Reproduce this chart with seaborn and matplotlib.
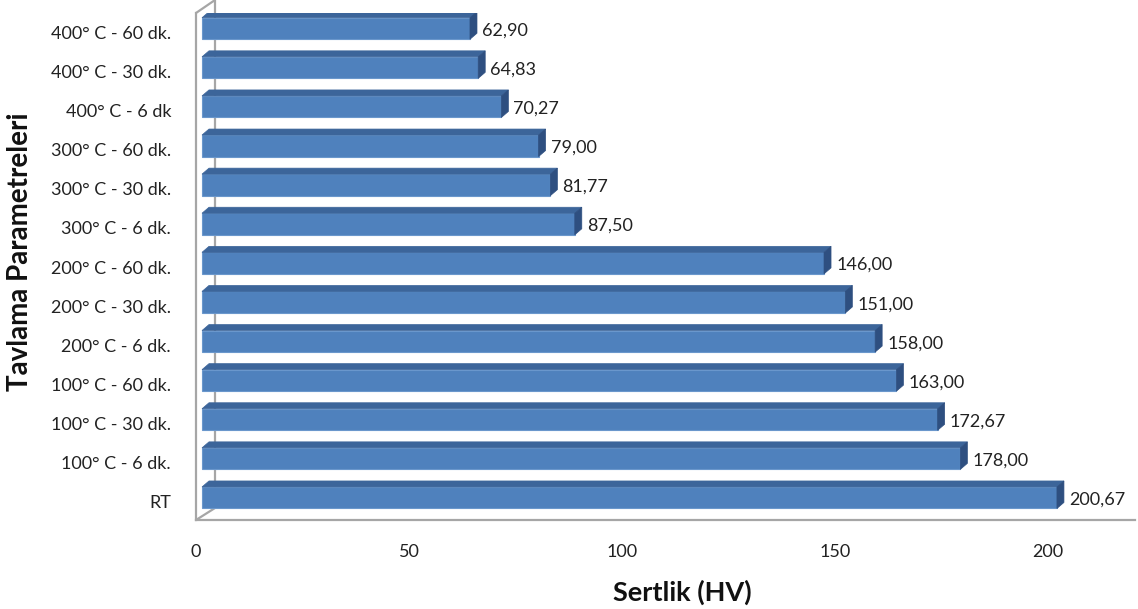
import matplotlib
matplotlib.use("Agg")
import matplotlib.pyplot as plt
import matplotlib.transforms as mtrans
from matplotlib.patches import Polygon
from matplotlib.lines import Line2D
import seaborn as sns
import pandas as pd

categories = ["400° C - 60 dk.", "400° C - 30 dk.", "400° C - 6 dk",
              "300° C - 60 dk.", "300° C - 30 dk.", "300° C - 6 dk.",
              "200° C - 60 dk.", "200° C - 30 dk.", "200° C - 6 dk.",
              "100° C - 60 dk.", "100° C - 30 dk.", "100° C - 6 dk.", "RT"]
values = [62.90, 64.83, 70.27, 79.00, 81.77, 87.50, 146.00, 151.00,
          158.00, 163.00, 172.67, 178.00, 200.67]
x_ticks = [0, 50, 100, 150, 200]
x_label = "Sertlik (HV)"
y_label = "Tavlama Parametreleri"

sns.set_theme(style="white")
plt.rcParams["font.family"] = ["Lato", "DejaVu Sans"]

W, H = 1138, 609
fig = plt.figure(figsize=(W / 100, H / 100), dpi=100)
ax = fig.add_axes([196 / W, 1 - 520 / H, (1135 - 196) / W, (520 - 13) / H])

df = pd.DataFrame({"cat": categories, "val": values})
sns.barplot(data=df, y="cat", x="val", orient="h", ax=ax, color="#4F81BD",
            saturation=1, width=0.55, zorder=3)

ax.set_xlim(0, 220.4)
ax.set_ylim(12.57, -0.396)
ax.set_xticks(x_ticks)
ax.set_xticklabels([str(t) for t in x_ticks])
ax.set_xlabel("")
ax.set_ylabel("")
ax.tick_params(axis="x", length=0, pad=17, labelsize=13, colors="#222222")
ax.tick_params(axis="y", length=0, pad=18, labelsize=13, colors="#222222")
for s in ["top", "right"]:
    ax.spines[s].set_visible(False)
for s in ["left", "bottom"]:
    ax.spines[s].set_color("#A6A6A6")
    ax.spines[s].set_linewidth(1.6)
ax.grid(False)
ax.patch.set_alpha(0)

px = lambda x, y: mtrans.ScaledTranslation(x / 100, y / 100, fig.dpi_scale_trans)
ident = mtrans.IdentityTransform()
wall = dict(color="#A6A6A6", lw=1.6, zorder=-1, clip_on=False)

for lab in ax.get_yticklabels():
    lab.set_transform(lab.get_transform() + px(0, -4))

# back wall: diagonals from front corners to back corners, plus back vertical edge
back_dx, top_dy, bot_dy = 19, 13, 12
(fx, fy_top) = ax.transAxes.transform((0, 1))
(_, fy_bot) = ax.transAxes.transform((0, 0))
bx = fx + back_dx
fig.add_artist(Line2D([fx, bx, bx, fx], [fy_top, fy_top + top_dy, fy_bot + bot_dy, fy_bot],
                      transform=ident, **wall))

shift = 6
dx, dy = 7, 6
top_c, side_c = "#3C659A", "#2E4F80"
for p, v in zip(ax.patches, values):
    x0, y0 = p.get_x(), p.get_y()
    w, h = p.get_width(), p.get_height()
    p.set_transform(ax.transData + px(shift, 0))
    p.set_edgecolor("#6A97CC")
    p.set_linewidth(0.8)
    (ax0, ay0) = ax.transData.transform((x0, y0))
    (ax1, ay1) = ax.transData.transform((x0 + w, y0 + h))
    left, right = ax0 + shift, ax1 + shift
    ytop, ybot = max(ay0, ay1), min(ay0, ay1)
    top = Polygon([(left, ytop), (right, ytop), (right + dx, ytop + dy), (left + dx, ytop + dy)],
                  closed=True, transform=ident, facecolor=top_c,
                  edgecolor=top_c, lw=0.5, zorder=3)
    side = Polygon([(right, ybot), (right, ytop), (right + dx, ytop + dy), (right + dx, ybot + dy)],
                   closed=True, transform=ident, facecolor=side_c,
                   edgecolor=side_c, lw=0.5, zorder=3)
    ax.add_artist(top)
    ax.add_artist(side)
    ax.text(x0 + w, y0 + h / 2, f"{v:.2f}".replace(".", ","),
            transform=ax.transData + px(shift + dx + 5, -2),
            ha="left", va="center", fontsize=13, color="#222222", zorder=4)

fig.text(682 / W, 1 - 592 / H, x_label, ha="center", va="center",
         fontsize=19.5, fontweight="bold", color="#111111")
fig.text(20 / W, 1 - 252 / H, y_label, ha="center", va="center", rotation=90,
         fontsize=20, fontweight="bold", color="#111111")

fig.savefig("out.png", dpi=100, facecolor="white")
